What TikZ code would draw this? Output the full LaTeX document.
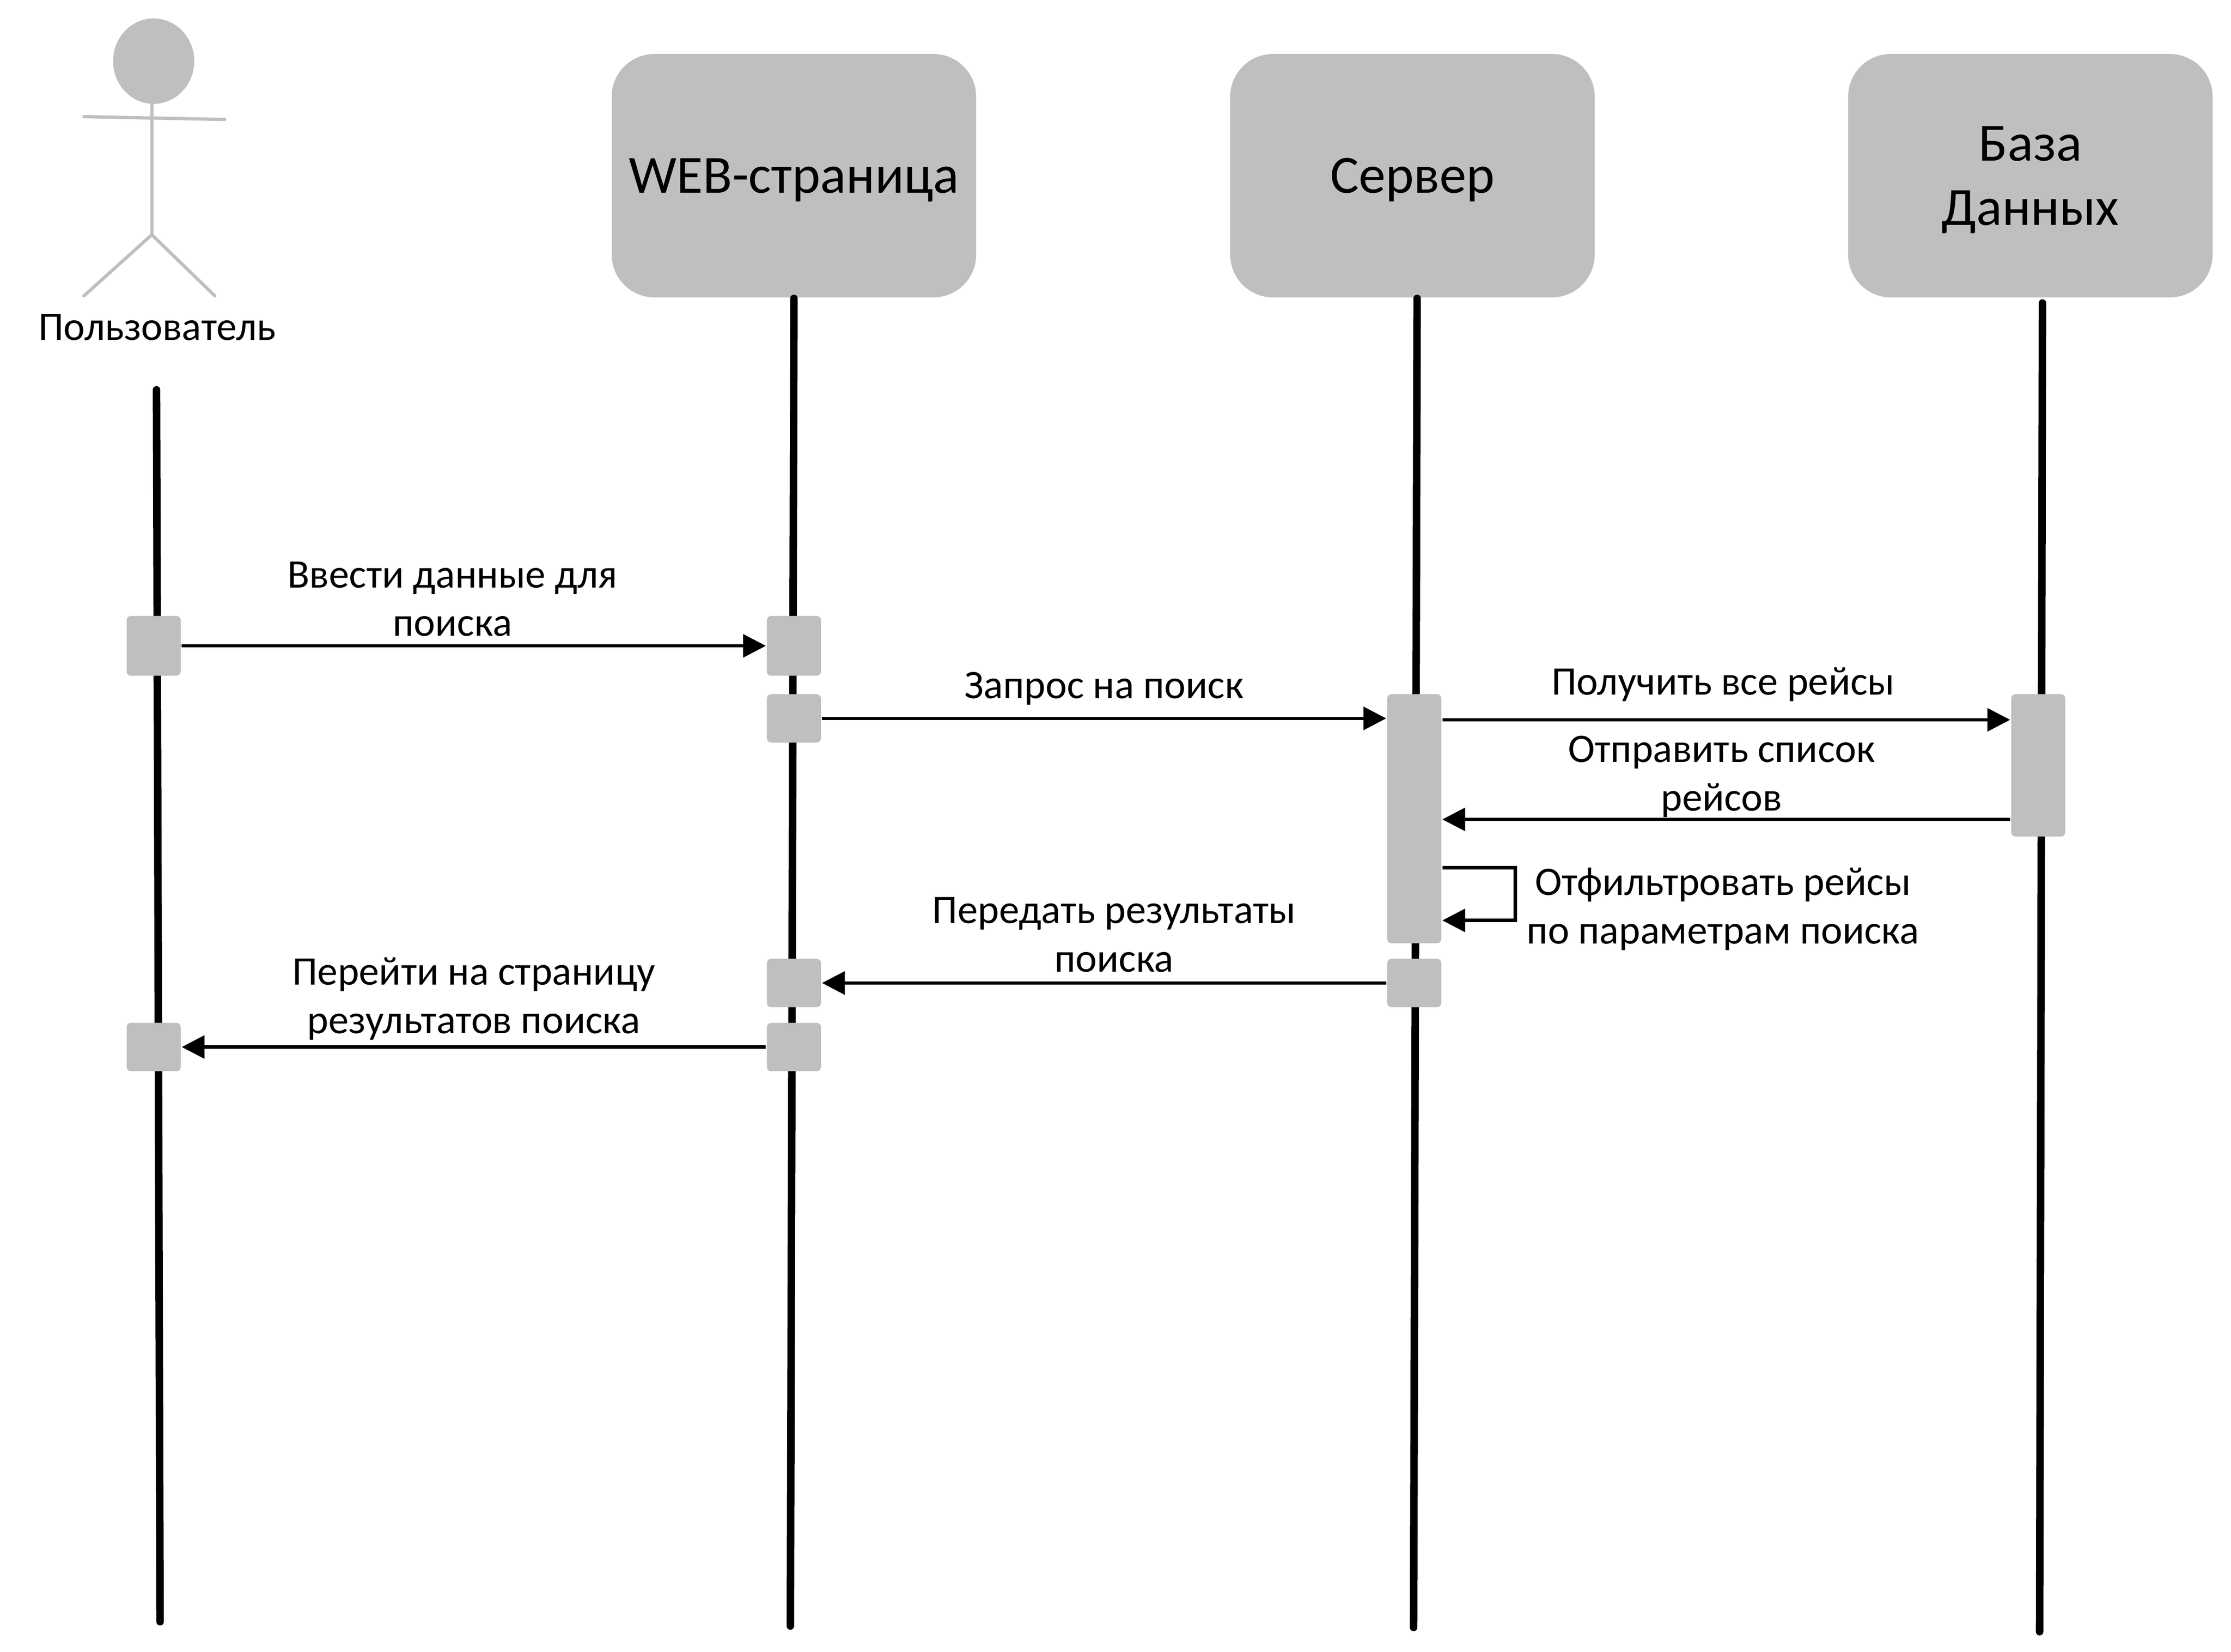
\documentclass[tikz,border=0pt]{standalone}
\usepackage{fontspec}
\setmainfont{Carlito}
\usetikzlibrary{positioning, calc}
\usetikzlibrary{arrows.meta}
\usetikzlibrary{shapes.geometric}
\definecolor{boxgray}{HTML}{BFBFBF}
\newcommand{\headline}[1]{\raisebox{-0.03cm}[\height][\depth]{#1}}
\tikzset{
    headbox/.style={fill=boxgray, rounded corners=0.3cm, minimum width=2.56cm, minimum height=1.71cm, inner sep=0pt, align=center, font=\fontsize{10.75pt}{12.8pt}\selectfont},
    bar/.style={fill=boxgray, rounded corners=0.03cm, minimum width=0.38cm, inner sep=0pt},
    life/.style={line width=1.5pt, line cap=round},
    stick/.style={line width=0.65pt, boxgray, line cap=round},
    msg/.style={line width=0.65pt, -{Triangle[length=0.16cm, width=0.16cm]}},
    lbl/.style={inner sep=0pt, align=center, font=\fontsize{8.1pt}{9.67pt}\selectfont}
}
\begin{document}
\begin{tikzpicture}[x=0.01cm, y=-0.01cm]
    \useasboundingbox (0,0) rectangle (1568,1161);
    % actor
    \node[ellipse, fill=boxgray, minimum width=0.57cm, minimum height=0.6cm, inner sep=0pt] (head) at (108,43) {};
    \coordinate (hip) at (106.7,165);
    \coordinate (armleft) at (59,82);
    \coordinate (armright) at (158,84);
    \coordinate (legleft) at (59,208);
    \coordinate (legright) at (151,208);
    \draw[stick] (head.south -| hip) -- (hip);
    \draw[stick] (armleft) -- (armright);
    \draw[stick] (legleft) -- (hip) -- (legright);
    \node[lbl] (user) at (110.5,230) {Пользователь};
    % header boxes
    \node[headbox] (web) at (558,123.5) {\headline{WEB-страница}};
    \node[headbox] (srv) at (992.7,123.5) {\headline{Сервер}};
    \node[headbox] (db) at (1427,123.5) {\headline{База}\\\headline{Данных}};
    % lifelines
    \coordinate (usertop) at (110,274);
    \coordinate (userend) at (112.5,1140);
    \coordinate (webend) at (555.5,1143);
    \coordinate (srvend) at (993.5,1144);
    \coordinate (dbtop) at (1435.5,213);
    \coordinate (dbend) at (1433.5,1147);
    \draw[life] (usertop) -- (userend);
    \draw[life] (web.south) -- (webend);
    \draw[life] (srv.south -| 996,0) -- (srvend);
    \draw[life] (dbtop) -- (dbend);
    % activation bars
    \node[bar, minimum height=0.42cm] (user1) at (108,454) {};
    \node[bar, minimum height=0.42cm] (web1) at (558,454) {};
    \node[bar, minimum height=0.34cm] (web2) at (558,505) {};
    \node[bar, minimum height=1.75cm] (srv1) at (994,575.5) {};
    \node[bar, minimum height=1cm] (db1) at (1432.5,538) {};
    \node[bar, minimum height=0.34cm] (srv2) at (994,691) {};
    \node[bar, minimum height=0.34cm] (web3) at (558,691) {};
    \node[bar, minimum height=0.34cm] (web4) at (558,736) {};
    \node[bar, minimum height=0.34cm] (user2) at (108,736) {};
    % messages
    \coordinate (yget) at (0,506);
    \coordinate (yback) at (0,576);
    \coordinate (yloopa) at (0,610);
    \coordinate (yloopb) at (0,647);
    \coordinate (xloop) at (1065,0);
    \draw[msg] (user1.east) -- (web1.west);
    \draw[msg] (web2.east) -- (web2.east -| srv1.west);
    \draw[msg] (yget -| srv1.east) -- (yget -| db1.west);
    \draw[msg] (yback -| db1.west) -- (yback -| srv1.east);
    \draw[msg] (yloopa -| srv1.east) -- (yloopa -| xloop) -- (yloopb -| xloop) -- (yloopb -| srv1.east);
    \draw[msg] (srv2.west) -- (web3.east);
    \draw[msg] (web4.west) -- (user2.east);
    % labels
    \node[lbl] (enter) at (318,421) {Ввести данные для\\поиска};
    \node[lbl] (query) at (776,484) {Запрос на поиск};
    \node[lbl] (getall) at (1211,481) {Получить все рейсы};
    \node[lbl] (sendlist) at (1210,546) {Отправить список\\рейсов};
    \node[lbl] (filter) at (1211,639) {Отфильтровать рейсы\\по параметрам поиска};
    \node[lbl] (pass) at (783,657) {Передать результаты\\поиска};
    \node[lbl] (goto) at (333,702) {Перейти на страницу\\результатов поиска};
\end{tikzpicture}
\end{document}
